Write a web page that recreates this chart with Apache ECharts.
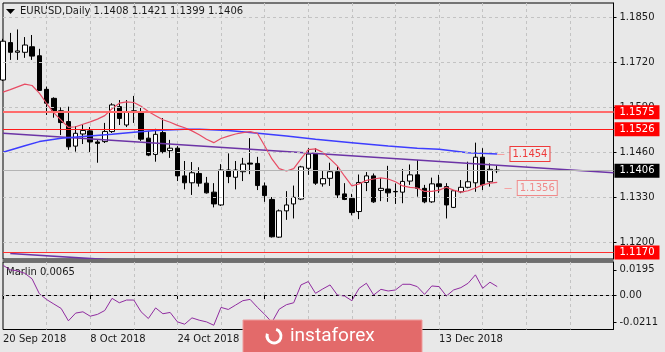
<!DOCTYPE html>
<html>
<head>
<meta charset="utf-8">
<script src="https://cdn.jsdelivr.net/npm/echarts@6/dist/echarts.min.js"></script>
<style>
  html, body { margin: 0; padding: 0; background: #e8e8e8; }
  #chart { width: 665px; height: 352px; }
</style>
</head>
<body>
<div id="chart"></div>
<script>
// trading days shown on the chart (year is 2018 for all of them)
const days = [
  '20 Sep', '21 Sep', '24 Sep', '25 Sep', '26 Sep', '27 Sep', '28 Sep',
  '1 Oct', '2 Oct', '3 Oct', '4 Oct', '5 Oct', '8 Oct', '9 Oct', '10 Oct', '11 Oct', '12 Oct',
  '15 Oct', '16 Oct', '17 Oct', '18 Oct', '19 Oct', '22 Oct', '23 Oct', '24 Oct', '25 Oct',
  '26 Oct', '29 Oct', '30 Oct', '31 Oct',
  '1 Nov', '2 Nov', '5 Nov', '6 Nov', '7 Nov', '8 Nov', '9 Nov', '12 Nov', '13 Nov', '14 Nov',
  '15 Nov', '16 Nov', '19 Nov', '20 Nov', '21 Nov', '22 Nov', '23 Nov', '26 Nov', '27 Nov',
  '28 Nov', '29 Nov', '30 Nov',
  '3 Dec', '4 Dec', '5 Dec', '6 Dec', '7 Dec', '10 Dec', '11 Dec', '12 Dec', '13 Dec', '14 Dec',
  '17 Dec', '18 Dec', '19 Dec', '20 Dec', '21 Dec', '24 Dec', '25 Dec'
]
const emptySlots = 16

const opens = [
  1.1668, 1.1776, 1.1748, 1.1748, 1.1764, 1.1738, 1.1641, 1.1615, 1.1579, 1.1548,
  1.1477, 1.1512, 1.1521, 1.1489, 1.1490, 1.1519, 1.1591, 1.1538, 1.1579, 1.1574,
  1.1500, 1.1453, 1.1516, 1.1464, 1.1471, 1.1391, 1.1371, 1.1398, 1.1370, 1.1344,
  1.1307, 1.1408, 1.1387, 1.1403, 1.1428, 1.1427, 1.1362, 1.1323, 1.1214, 1.1290,
  1.1310, 1.1324, 1.1413, 1.1454, 1.1368, 1.1384, 1.1403, 1.1339, 1.1326, 1.1288,
  1.1372, 1.1391, 1.1349, 1.1353, 1.1346, 1.1344, 1.1376, 1.1394, 1.1355, 1.1316,
  1.1368, 1.1360, 1.1300, 1.1345, 1.1358, 1.1371, 1.1445, 1.1374, 1.1408
]
const highs = [
  1.1787, 1.1804, 1.1814, 1.1792, 1.1798, 1.1758, 1.1649, 1.1618, 1.1589, 1.1591,
  1.1535, 1.1541, 1.1532, 1.1495, 1.1544, 1.1601, 1.1610, 1.1610, 1.1622, 1.1587,
  1.1521, 1.1527, 1.1558, 1.1495, 1.1477, 1.1434, 1.1431, 1.1416, 1.1388, 1.1370,
  1.1425, 1.1456, 1.1434, 1.1443, 1.1500, 1.1446, 1.1372, 1.1330, 1.1294, 1.1347,
  1.1363, 1.1420, 1.1471, 1.1471, 1.1405, 1.1429, 1.1418, 1.1370, 1.1339, 1.1395,
  1.1402, 1.1398, 1.1385, 1.1420, 1.1369, 1.1411, 1.1424, 1.1437, 1.1365, 1.1386,
  1.1394, 1.1370, 1.1350, 1.1379, 1.1432, 1.1487, 1.1471, 1.1427, 1.1421
]
const lows = [
  1.1665, 1.1726, 1.1726, 1.1732, 1.1726, 1.1637, 1.1567, 1.1559, 1.1509, 1.1466,
  1.1461, 1.1483, 1.1460, 1.1429, 1.1486, 1.1515, 1.1538, 1.1532, 1.1544, 1.1492,
  1.1448, 1.1432, 1.1456, 1.1443, 1.1376, 1.1352, 1.1336, 1.1360, 1.1340, 1.1300,
  1.1304, 1.1370, 1.1352, 1.1376, 1.1396, 1.1350, 1.1316, 1.1213, 1.1212, 1.1264,
  1.1268, 1.1321, 1.1394, 1.1365, 1.1360, 1.1362, 1.1327, 1.1321, 1.1277, 1.1266,
  1.1347, 1.1313, 1.1318, 1.1316, 1.1310, 1.1312, 1.1365, 1.1331, 1.1312, 1.1313,
  1.1342, 1.1268, 1.1298, 1.1341, 1.1355, 1.1345, 1.1350, 1.1360, 1.1399
]
const closes = [
  1.1780, 1.1748, 1.1752, 1.1769, 1.1737, 1.1638, 1.1601, 1.1574, 1.1545, 1.1475,
  1.1514, 1.1522, 1.1489, 1.1485, 1.1519, 1.1596, 1.1557, 1.1576, 1.1575, 1.1497,
  1.1451, 1.1511, 1.1461, 1.1471, 1.1391, 1.1371, 1.1400, 1.1370, 1.1342, 1.1310,
  1.1408, 1.1389, 1.1408, 1.1425, 1.1425, 1.1363, 1.1334, 1.1215, 1.1290, 1.1307,
  1.1329, 1.1417, 1.1454, 1.1370, 1.1383, 1.1403, 1.1336, 1.1323, 1.1285, 1.1372,
  1.1391, 1.1316, 1.1355, 1.1342, 1.1345, 1.1375, 1.1394, 1.1355, 1.1316, 1.1368,
  1.1360, 1.1307, 1.1348, 1.1358, 1.1374, 1.1445, 1.1365, 1.1410, 1.1406
]

// red moving average, one value per bar
const redLine = [
  1.1633, 1.1640, 1.1648, 1.1656, 1.1652, 1.1630, 1.1600, 1.1573, 1.1552, 1.1531,
  1.1533, 1.1540, 1.1547, 1.1555, 1.1565, 1.1585, 1.1601, 1.1605, 1.1603, 1.1592,
  1.1577, 1.1565, 1.1553, 1.1546, 1.1537, 1.1530, 1.1521, 1.1510, 1.1497, 1.1487,
  1.1499, 1.1506, 1.1512, 1.1516, 1.1519, 1.1514, 1.1478, 1.1440, 1.1412, 1.1405,
  1.1412, 1.1440, 1.1467, 1.1469, 1.1459, 1.1440, 1.1420, 1.1390, 1.1362, 1.1368,
  1.1378, 1.1382, 1.1385, 1.1382, 1.1374, 1.1362, 1.1358, 1.1356, 1.1346, 1.1346,
  1.1350, 1.1358, 1.1350, 1.1344, 1.1348, 1.1356, 1.1365, 1.1370, 1.1372
]
// slow blue average, read at these bars
const blueLine = [
  [0, 1.1459], [3, 1.1478], [5, 1.1490], [8, 1.1500], [11, 1.1505], [15, 1.1511],
  [18, 1.1517], [21, 1.1522], [25, 1.1526], [27, 1.1526], [31, 1.1522], [34, 1.1516],
  [39, 1.1506], [43, 1.1497], [48, 1.1487], [53, 1.1477], [57, 1.1471], [60, 1.1468],
  [64, 1.1458], [68, 1.1454]
]
// trend lines (end points)
const trendLine = [[0, 1.1514], [84, 1.1400]]
const lowTrend = [[1, 1.1167], [16, 1.1147]]

const levels = [1.1575, 1.1526, 1.1170]
const redTag = 1.1356
const priceTicks = [1.1200, 1.1330, 1.1460, 1.1590, 1.1720, 1.1850]

const marlin = [
  0.0230, 0.0195, 0.0187, 0.0168, 0.0125, 0.0010, -0.0035, -0.0070, -0.0104, -0.0200,
  -0.0140, -0.0130, -0.0164, -0.0150, -0.0120, -0.0026, -0.0060, -0.0039, -0.0039, -0.0130,
  -0.0182, -0.0100, -0.0145, -0.0135, -0.0208, -0.0226, -0.0177, -0.0195, -0.0208, -0.0234,
  -0.0096, -0.0112, -0.0078, -0.0044, -0.0034, -0.0095, -0.0150, -0.0211, -0.0110, -0.0075,
  -0.0060, 0.0078, 0.0104, 0.0013, 0.0047, 0.0078, 0.0000, -0.0008, -0.0044, 0.0052,
  0.0091, 0.0000, 0.0044, 0.0031, 0.0039, 0.0083, 0.0083, 0.0065, 0.0005, 0.0070,
  0.0065, -0.0008, 0.0039, 0.0057, 0.0091, 0.0156, 0.0052, 0.0099, 0.0065
]
const marlinTicks = [-0.0211, 0, 0.0195]

const font = 'DejaVu Sans'
const last = days.length - 1
const categories = days.concat(new Array(emptySlots).fill(''))
const candles = days.map((d, i) => [opens[i], closes[i], lows[i], highs[i]])
const dash = { color: '#c3c3c3', type: [3, 3], width: 1 }
const everySix = (i) => i > 0 && i % 6 === 0
const dated = (i) => i % 12 === 0 && i <= last

const axisTag = (value, bg, fg, line) => ({
  yAxis: value,
  lineStyle: line,
  label: {
    show: true, position: 'end', distance: 1, formatter: value.toFixed(4),
    backgroundColor: bg, color: fg, padding: [2, 5, 1, 5],
    fontFamily: font, fontSize: 10, lineHeight: 11
  }
})

const sideTag = (x0, x1, value, text, border, lineColor) => [
  { coord: [x0, value], lineStyle: { color: lineColor, width: 1, type: 'solid' } },
  {
    coord: [x1, value],
    label: {
      show: true, position: 'end', distance: 6, formatter: text,
      color: border, backgroundColor: '#eeeeee', borderColor: border, borderWidth: 1,
      padding: [2, 2, 1, 2], fontFamily: font, fontSize: 10, lineHeight: 11
    }
  }
]

let chart = echarts.init(document.getElementById('chart'))

let options = {
  backgroundColor: '#e8e8e8',
  animation: false,
  textStyle: { fontFamily: font },
  grid: [
    { left: 3, right: 51.5, top: 3, height: 256, show: true, borderColor: '#000', borderWidth: 1 },
    { left: 3, right: 51.5, top: 262, height: 67.5, show: true, borderColor: '#000', borderWidth: 1 }
  ],
  xAxis: [
    {
      type: 'category', gridIndex: 0, data: categories, boundaryGap: false,
      axisLine: { show: false }, axisTick: { show: false }, axisLabel: { show: false },
      splitLine: { show: true, interval: everySix, lineStyle: dash }
    },
    {
      type: 'category', gridIndex: 1, data: categories, boundaryGap: false,
      axisLine: { show: true, lineStyle: { color: '#000' } },
      axisTick: { show: true, interval: dated, length: 4, lineStyle: { color: '#000' } },
      axisLabel: {
        show: true, interval: dated, align: 'left', margin: 5,
        color: '#1a1a1a', fontSize: 10, fontFamily: font,
        formatter: (v) => v ? v + ' 2018' : ''
      },
      splitLine: { show: true, interval: everySix, lineStyle: dash }
    }
  ],
  yAxis: [
    {
      type: 'value', gridIndex: 0, position: 'right', min: 1.11509, max: 1.18904,
      splitLine: { show: false },
      axisLine: { show: true, lineStyle: { color: '#000' } },
      axisTick: { show: true, customValues: priceTicks, length: 3, lineStyle: { color: '#000' } },
      axisLabel: {
        customValues: priceTicks, formatter: (v) => v.toFixed(4),
        margin: 6, color: '#1a1a1a', fontSize: 10, fontFamily: font
      }
    },
    {
      type: 'value', gridIndex: 1, position: 'right', min: -0.0267, max: 0.02554,
      splitLine: { show: false },
      axisLine: { show: true, lineStyle: { color: '#000' } },
      axisTick: { show: true, customValues: marlinTicks, length: 3, lineStyle: { color: '#000' } },
      axisLabel: {
        customValues: marlinTicks, formatter: (v) => v === 0 ? '0.00' : v.toFixed(4),
        margin: 6, color: '#1a1a1a', fontSize: 10, fontFamily: font
      }
    }
  ],
  series: [
    {
      // horizontal price grid
      type: 'line', xAxisIndex: 0, yAxisIndex: 0, data: [], z: 1, silent: true,
      markLine: {
        silent: true, symbol: 'none', precision: 6, label: { show: false }, lineStyle: dash,
        data: priceTicks.map((v) => ({ yAxis: v }))
      }
    },
    {
      type: 'candlestick', xAxisIndex: 0, yAxisIndex: 0, data: candles, barWidth: 5, z: 2,
      itemStyle: { color: '#ffffff', color0: '#000000', borderColor: '#000000', borderColor0: '#000000', borderWidth: 1 }
    },
    {
      // support / resistance levels and the bid line
      type: 'line', xAxisIndex: 0, yAxisIndex: 0, data: [], z: 4, silent: true,
      markLine: {
        silent: true, symbol: 'none', precision: 6,
        data: [
          axisTag(closes[last], '#000', '#fff', { color: '#b4b4b4', width: 1, type: 'solid' }),
          axisTag(levels[0], '#ff0000', '#fff', { color: '#ff6b6b', width: 2, type: 'solid' }),
          axisTag(levels[1], '#ff0000', '#fff', { color: '#ff1a1a', width: 1.2, type: 'solid' }),
          axisTag(levels[2], '#ff0000', '#fff', { color: '#ff3030', width: 1.2, type: 'solid' })
        ]
      }
    },
    {
      type: 'line', xAxisIndex: 0, yAxisIndex: 0, data: trendLine, symbol: 'none', z: 3,
      lineStyle: { color: '#6c34a6', width: 1.6 }
    },
    {
      type: 'line', xAxisIndex: 0, yAxisIndex: 0, data: lowTrend, symbol: 'none', z: 3,
      lineStyle: { color: '#6c34a6', width: 1.6 }
    },
    {
      type: 'line', xAxisIndex: 0, yAxisIndex: 0, data: blueLine, symbol: 'none', z: 3,
      lineStyle: { color: '#3d3dff', width: 1.5 },
      markLine: {
        silent: true, symbol: 'none', precision: 6,
        data: [sideTag(last, last + 1, blueLine[blueLine.length - 1][1], blueLine[blueLine.length - 1][1].toFixed(4), '#ee3b3b', '#f4a0a0')]
      }
    },
    {
      type: 'line', xAxisIndex: 0, yAxisIndex: 0, data: redLine, symbol: 'none', z: 3,
      lineStyle: { color: '#e84c64', width: 1.2 },
      markLine: {
        silent: true, symbol: 'none', precision: 6,
        data: [sideTag(last + 1, last + 2, redTag, redTag.toFixed(4), '#f08a8a', '#f5a3a3')]
      }
    },
    {
      type: 'line', xAxisIndex: 1, yAxisIndex: 1, data: marlin, symbol: 'none', z: 3,
      lineStyle: { color: '#902ca0', width: 1 },
      markLine: {
        silent: true, symbol: 'none', precision: 6, label: { show: false }, lineStyle: dash,
        data: [{ yAxis: 0 }]
      }
    }
  ],
  graphic: [
    { type: 'polygon', shape: { points: [[6, 9], [15, 9], [10.5, 14]] }, style: { fill: '#000' } },
    {
      type: 'text', x: 20, y: 11,
      style: {
        text: 'EURUSD,Daily ' + [opens[last], highs[last], lows[last], closes[last]].map((v) => v.toFixed(4)).join(' '),
        fill: '#1a1a1a', font: '10px "DejaVu Sans"', verticalAlign: 'middle'
      }
    },
    {
      type: 'text', x: 6, y: 272.5,
      style: { text: 'Marlin ' + marlin[last].toFixed(4), fill: '#1a1a1a', font: '10px "DejaVu Sans"', verticalAlign: 'middle' }
    },
    { type: 'rect', z: 50, shape: { x: 2.5, y: 259, width: 611, height: 3 }, style: { fill: '#6e6e6e' } },
    { type: 'rect', z: 100, shape: { x: 243, y: 320, width: 179, height: 33 }, style: { fill: '#e36a6a', stroke: '#ef9c9c', lineWidth: 1 } },
    {
      type: 'arc', z: 101, shape: { cx: 274, cy: 336, r: 7, startAngle: -0.4 * Math.PI, endAngle: 1.1 * Math.PI },
      style: { stroke: '#fff', lineWidth: 3, fill: null }
    },
    {
      type: 'text', z: 101, x: 290, y: 336,
      style: { text: 'instaforex', fill: '#fff', font: '19px Roboto', verticalAlign: 'middle' }
    }
  ]
}

chart.setOption(options)
</script>
</body>
</html>
